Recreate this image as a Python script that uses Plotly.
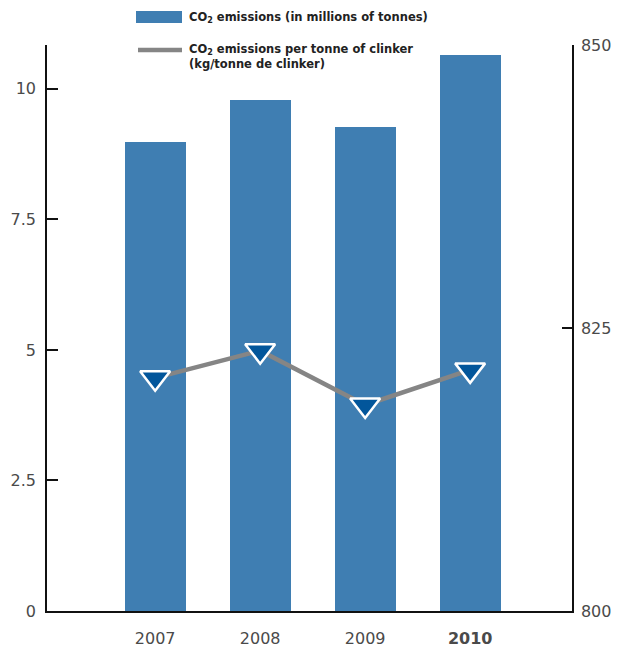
import plotly.graph_objects as go

# Data
years = ["2007", "2008", "2009", "2010"]
year_labels = ["2007", "2008", "2009", "<b>2010</b>"]
co2_mt = [8.98, 9.79, 9.27, 10.65]          # CO2 emissions, millions of tonnes
co2_per_clinker = [820.6, 823.0, 818.2, 821.3]  # kg CO2 per tonne of clinker

left_ticks = [0, 2.5, 5, 7.5, 10]
left_ticktext = ["0", "2.5", "5", "7.5", "10"]
right_ticks = [800, 825, 850]

BAR_COLOR = "#3F7EB2"
LINE_COLOR = "#858585"
MARKER_COLOR = "#02569B"
TEXT_COLOR = "#4a4a4a"
FONT = "'DejaVu Sans', sans-serif"

W, H = 618, 647
ML, MR, MT, MB = 47, 46, 45, 36
PW, PH = W - ML - MR, H - MT - MB


def px_x(x):
    return (x - ML) / PW


def px_y(y):
    return (H - MB - y) / PH


fig = go.Figure()

fig.add_trace(go.Bar(
    x=years, y=co2_mt, width=0.58,
    marker=dict(color=BAR_COLOR, line=dict(width=0)),
    showlegend=False, hoverinfo="x+y",
))

fig.add_trace(go.Scatter(
    x=years, y=co2_per_clinker, yaxis="y2", mode="lines+markers",
    line=dict(color=LINE_COLOR, width=4.5),
    marker=dict(symbol="triangle-down", size=26, color=MARKER_COLOR,
                line=dict(color="white", width=2.5)),
    showlegend=False, hoverinfo="x+y",
))

# Legend drawn as swatches + labels above the plot
fig.add_shape(type="rect", xref="paper", yref="paper",
              x0=px_x(136), x1=px_x(182), y0=px_y(23), y1=px_y(11),
              fillcolor=BAR_COLOR, line=dict(width=0), layer="above")
fig.add_shape(type="line", xref="paper", yref="paper",
              x0=px_x(138), x1=px_x(182), y0=px_y(50), y1=px_y(50),
              line=dict(color=LINE_COLOR, width=4.5), layer="above")

fig.add_annotation(xref="paper", yref="paper", x=px_x(187), y=px_y(17),
                   xanchor="left", yanchor="middle", showarrow=False,
                   text="<b>CO<sub>2</sub> emissions (in millions of tonnes)</b>",
                   font=dict(family=FONT, size=11.5, color="#222"))
fig.add_annotation(xref="paper", yref="paper", x=px_x(187), y=px_y(56),
                   xanchor="left", yanchor="middle", showarrow=False, align="left",
                   text="<b>CO<sub>2</sub> emissions per tonne of clinker<br>(kg/tonne de clinker)</b>",
                   font=dict(family=FONT, size=11.5, color="#222"))

fig.update_layout(
    width=W, height=H,
    margin=dict(l=ML, r=MR, t=MT, b=MB, pad=0),
    paper_bgcolor="white", plot_bgcolor="white",
    font=dict(family=FONT, color=TEXT_COLOR, size=16),
    bargap=0,
    xaxis=dict(
        type="category", range=[-1.03, 3.97], automargin=False,
        tickvals=years, ticktext=year_labels,
        showline=True, linecolor="#111", linewidth=1.5,
        ticks="", showgrid=False, zeroline=False,
        ticklabelstandoff=12,
        tickfont=dict(family=FONT, size=16, color=TEXT_COLOR),
    ),
    yaxis=dict(
        range=[0, 10.84], tickvals=left_ticks, ticktext=left_ticktext,
        automargin=False,
        showline=True, linecolor="#111", linewidth=1.5,
        ticks="inside", ticklen=11, tickwidth=1.5, tickcolor="#111",
        showgrid=False, zeroline=False,
        ticklabelstandoff=6,
        tickfont=dict(family=FONT, size=16, color=TEXT_COLOR),
    ),
    yaxis2=dict(
        overlaying="y", side="right", automargin=False,
        range=[800, 850], tickvals=right_ticks,
        showline=True, linecolor="#111", linewidth=1.5,
        ticks="inside", ticklen=10, tickwidth=1.5, tickcolor="#111",
        showgrid=False, zeroline=False,
        ticklabelstandoff=4,
        tickfont=dict(family=FONT, size=16, color=TEXT_COLOR),
    ),
)

fig.write_html("out.html")
